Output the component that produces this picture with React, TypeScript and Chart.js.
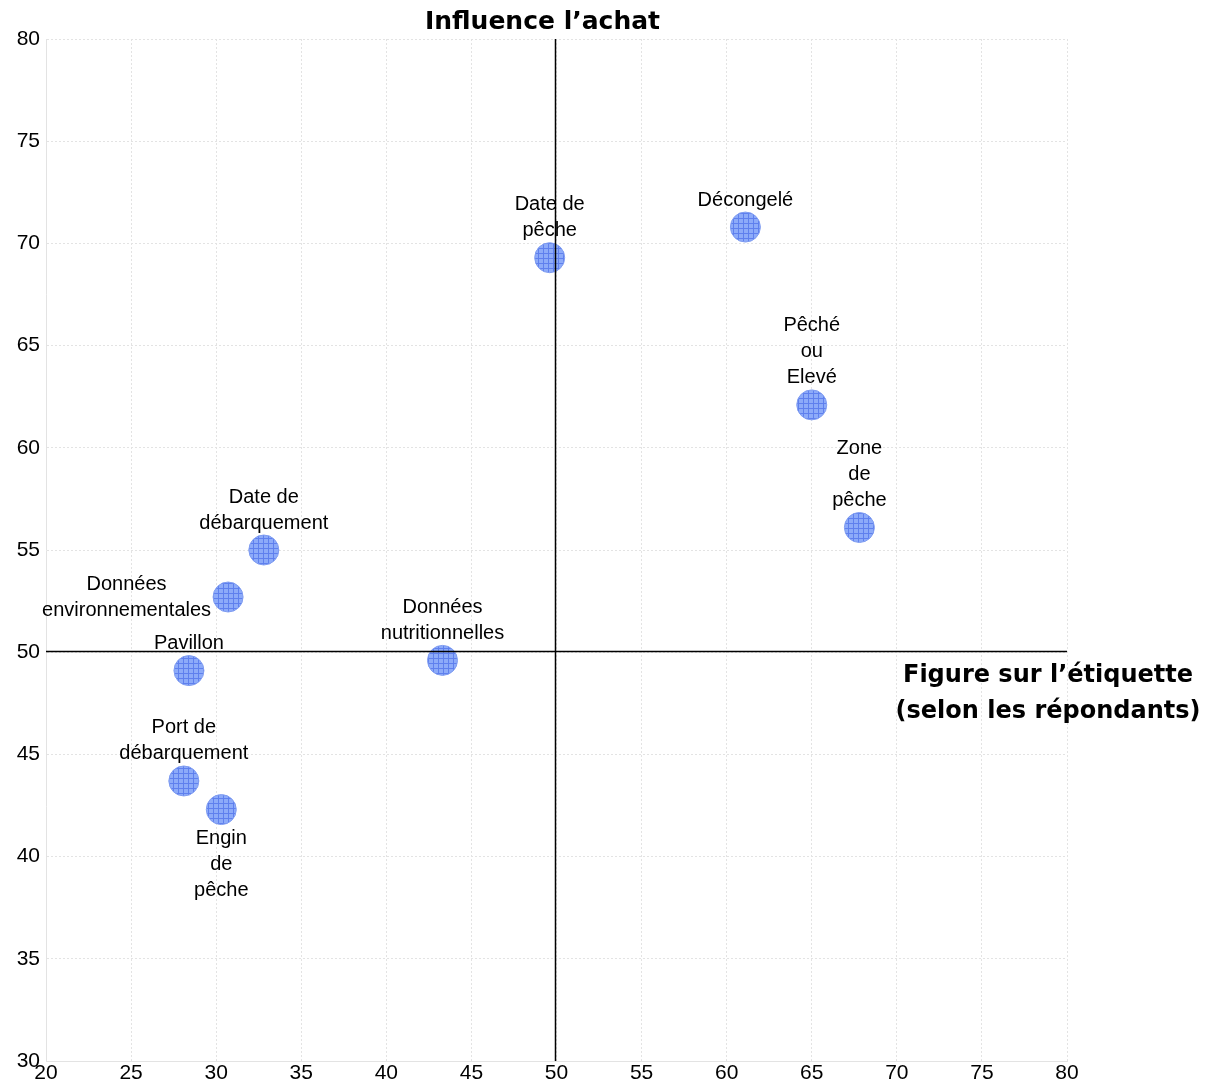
import React, { useEffect, useRef } from "react";
import { Chart, registerables } from "chart.js";

Chart.register(...registerables);

const labels: string[][] = [
  ["Date de", "pêche"],
  ["Décongelé"],
  ["Pêché", "ou", "Elevé"],
  ["Zone", "de", "pêche"],
  ["Date de", "débarquement"],
  ["Données", "environnementales"],
  ["Pavillon"],
  ["Données", "nutritionnelles"],
  ["Port de", "débarquement"],
  ["Engin", "de", "pêche"],
];
const xValues = [49.6, 61.1, 65.0, 67.8, 32.8, 30.7, 28.4, 43.3, 28.1, 30.3];
const yValues = [69.3, 70.8, 62.1, 56.1, 55.0, 52.7, 49.1, 49.6, 43.7, 42.3];
const labelSide = ["top", "top", "top", "top", "top", "left", "top", "top", "top", "bottom"];

const xTicks = [20, 25, 30, 35, 40, 45, 50, 55, 60, 65, 70, 75, 80];
const yTicks = [30, 35, 40, 45, 50, 55, 60, 65, 70, 75, 80];

const yTitle = "Influence l’achat";
const xTitle = ["Figure sur l’étiquette", "(selon les répondants)"];

const FONT = "'Liberation Sans', Arial, sans-serif";

function makePattern(): CanvasPattern | string {
  const c = document.createElement("canvas");
  c.width = 5;
  c.height = 5;
  const g = c.getContext("2d");
  if (!g) return "#8fabf8";
  g.fillStyle = "#8dabf9";
  g.fillRect(0, 0, 5, 5);
  g.fillStyle = "#5f80ee";
  g.fillRect(0, 0, 5, 1);
  g.fillRect(0, 0, 1, 5);
  const p = g.createPattern(c, "repeat");
  return p || "#8fabf8";
}

export default function App() {
  const ref = useRef<HTMLCanvasElement | null>(null);

  useEffect(() => {
    document.documentElement.style.overflow = "hidden";
    const canvas = ref.current;
    if (!canvas) return;

    const overlay = {
      id: "overlay",
      afterDatasetsDraw(chart: any) {
        const ctx = chart.ctx;
        const xs = chart.scales.x;
        const ys = chart.scales.y;
        const area = chart.chartArea;
        ctx.save();
        ctx.strokeStyle = "#000";
        ctx.lineWidth = 1.5;
        ctx.beginPath();
        const x50 = Math.round(xs.getPixelForValue(50)) - 2 + 0.5;
        const y50 = Math.round(ys.getPixelForValue(50)) - 1 + 0.5;
        ctx.moveTo(x50, area.top);
        ctx.lineTo(x50, area.bottom);
        ctx.moveTo(area.left, y50);
        ctx.lineTo(area.right, y50);
        ctx.stroke();

        ctx.fillStyle = "#000";
        ctx.font = `20px ${FONT}`;
        ctx.textBaseline = "middle";
        const lh = 26;
        for (let i = 0; i < labels.length; i++) {
          const px = xs.getPixelForValue(xValues[i]);
          const py = ys.getPixelForValue(yValues[i]);
          const lines = labels[i];
          const side = labelSide[i];
          ctx.textAlign = "center";
          const w = Math.max(...lines.map((l) => ctx.measureText(l).width));
          for (let j = 0; j < lines.length; j++) {
            if (side === "top") {
              ctx.fillText(lines[j], px, py - 27 - (lines.length - 1 - j) * lh);
            } else if (side === "bottom") {
              ctx.fillText(lines[j], px, py + 29 + j * lh);
            } else {
              ctx.fillText(lines[j], px - 17 - w / 2, py - ((lines.length - 1) * lh) / 2 + j * lh);
            }
          }
        }

        ctx.font = `bold 25px 'DejaVu Sans', sans-serif`;
        ctx.textAlign = "center";
        ctx.fillText(yTitle, x50 - 13, area.top - 17);
        ctx.font = `bold 24px 'DejaVu Sans', sans-serif`;
        ctx.fillText(xTitle[0], area.right - 19, y50 + 24);
        ctx.fillText(xTitle[1], area.right - 19, y50 + 60);
        ctx.restore();
      },
    };

    const pattern = makePattern();
    const points = xValues.map((x, i) => ({ x, y: yValues[i] }));

    const chart = new Chart(canvas, {
      type: "scatter",
      data: {
        datasets: [
          {
            data: points,
            pointRadius: 15,
            pointHoverRadius: 15,
            pointBackgroundColor: pattern as any,
            pointBorderColor: "#7f9cf0",
            pointBorderWidth: 1,
          },
        ],
      },
      options: {
        animation: false,
        responsive: false,
        events: [],
        layout: { padding: { top: 31, right: 144, left: 0, bottom: 0 } },
        plugins: {
          legend: { display: false },
          tooltip: { enabled: false },
        },
        scales: {
          x: {
            type: "linear",
            min: 20,
            max: 80,
            afterBuildTicks: (s: any) => {
              s.ticks = xTicks.map((v) => ({ value: v }));
            },
            afterFit: (s: any) => {
              s.height = 24;
            },
            ticks: {
              color: "#000",
              font: { family: FONT, size: 21 },
              padding: 0,
            },
            grid: { color: "#e3e3e3", lineWidth: 1, drawTicks: false },
            border: { color: "#e3e3e3", dash: [2, 2] },
          },
          y: {
            type: "linear",
            min: 30,
            max: 80,
            afterBuildTicks: (s: any) => {
              s.ticks = yTicks.map((v) => ({ value: v }));
            },
            afterFit: (s: any) => {
              s.width = 38;
            },
            ticks: {
              color: "#000",
              font: { family: FONT, size: 21 },
              padding: 6,
            },
            grid: { color: "#e3e3e3", lineWidth: 1, drawTicks: false },
            border: { color: "#e3e3e3", dash: [2, 2] },
          },
        },
      },
      plugins: [overlay],
    });

    return () => chart.destroy();
  }, []);

  return (
    <div>
      <canvas ref={ref} width={1203} height={1077} style={{ display: "block" }} />
    </div>
  );
}
